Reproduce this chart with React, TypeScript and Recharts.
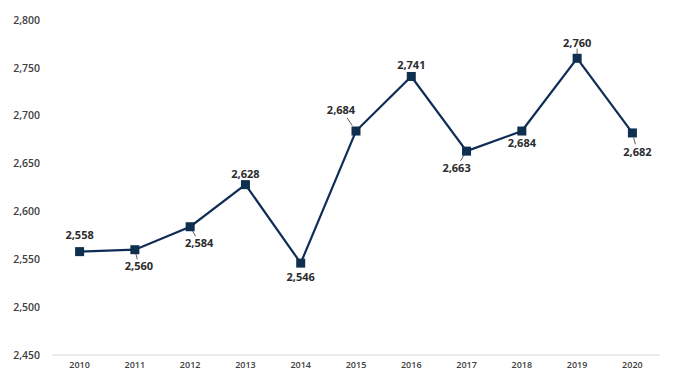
import { LineChart, Line, XAxis, YAxis, LabelList } from "recharts";

const years = ["2010", "2011", "2012", "2013", "2014", "2015", "2016", "2017", "2018", "2019", "2020"];
const values = [2558, 2560, 2584, 2628, 2546, 2684, 2741, 2663, 2684, 2760, 2682];
const yTicks = [2450, 2500, 2550, 2600, 2650, 2700, 2750, 2800];

// label placement per point: [dx, dy, leader line]
const labelOffsets: [number, number, boolean][] = [
  [0, -17, false],
  [4, 16, true],
  [9, 16, true],
  [0, -11, false],
  [0, 13, false],
  [-15, -22, true],
  [0, -12, false],
  [-10, 16, true],
  [0, 11, false],
  [0, -16, true],
  [5, 19, true],
];

const data = years.map((year, i) => ({ year, value: values[i] }));

const NAVY = "#102d56";
const fmt = (v: number) => v.toLocaleString("en-US");

function Square(props: any) {
  const { cx, cy } = props;
  if (cx == null || cy == null) return null;
  return <rect x={cx - 4.5} y={cy - 4.5} width={9} height={9} fill="#0e2f4e" />;
}

function PointLabel(props: any) {
  const { x, y, value, index } = props;
  const [dx, dy, leader] = labelOffsets[index];
  const tx = x + dx;
  const ty = y + dy;
  return (
    <g>
      {leader && (
        <line
          x1={x + dx * 0.25}
          y1={y + dy * 0.25}
          x2={x + dx * 0.6}
          y2={y + dy * 0.6}
          stroke="#333"
          strokeWidth={0.8}
        />
      )}
      <text
        x={tx}
        y={ty}
        textAnchor="middle"
        dominantBaseline="central"
        fontSize={11}
        fontWeight={700}
        fill="#2b2b2b"
        fontFamily="'Open Sans', sans-serif"
      >
        {fmt(value)}
      </text>
    </g>
  );
}

export default function App() {
  return (
    <div style={{ position: "absolute", left: 0, top: 0, background: "#fff" }}>
      <LineChart
        width={674}
        height={376}
        data={data}
        margin={{ top: 20, right: 14, left: 0, bottom: 0 }}
        style={{ fontFamily: "'Open Sans', sans-serif" }}
      >
        <XAxis
          dataKey="year"
          height={21}
          padding={{ left: 27.6, right: 27.6 }}
          tickLine={false}
          tickSize={0}
          tickMargin={7}
          axisLine={{ stroke: "#d9d9d9", strokeWidth: 1 }}
          tick={{ fontSize: 9, fill: "#404040", fontWeight: 600 }}
        />
        <YAxis
          width={52}
          domain={[2450, 2800]}
          ticks={yTicks}
          tickLine={false}
          axisLine={false}
          tickSize={0}
          tickMargin={12}
          tickFormatter={fmt}
          tick={{ fontSize: 10.5, fill: "#404040", fontWeight: 600 }}
        />
        <Line
          type="linear"
          dataKey="value"
          stroke={NAVY}
          strokeWidth={2.2}
          dot={<Square />}
          activeDot={false}
          isAnimationActive={false}
        >
          <LabelList dataKey="value" content={<PointLabel />} />
        </Line>
      </LineChart>
    </div>
  );
}
